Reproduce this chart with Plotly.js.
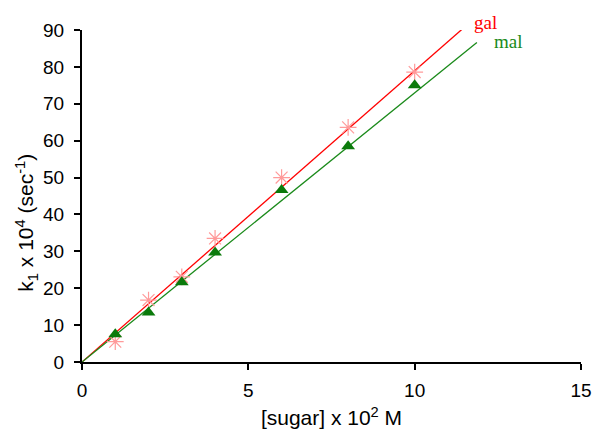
<!DOCTYPE html>
<html><head><meta charset="utf-8">
<script src="https://cdn.plot.ly/plotly-3.0.1.min.js"></script>
<style>body{margin:0;background:#fff}#c{width:593px;height:430px}</style>
</head><body><div id="c"></div>
<script>
const sugar = [1, 2, 3, 4, 6, 8, 10];
const galK = [5.5, 16.8, 23.1, 33.5, 50.0, 63.6, 78.6];
const malK = [7.5, 13.4, 21.6, 29.7, 46.6, 58.5, 75.0];
const galFitX = [0, 11.45];
const galFitY = [0, 90.4];
const malFitX = [0, 11.87];
const malFitY = [0, 86.6];
const xTicks = [0, 5, 10, 15];
const yTicks = [0, 10, 20, 30, 40, 50, 60, 70, 80, 90];

const traces = [
  {x: galFitX, y: galFitY, mode: 'lines', line: {color: '#ff0000', width: 1.3}, hoverinfo: 'skip', cliponaxis: false},
  {x: malFitX, y: malFitY, mode: 'lines', line: {color: '#1a8a1a', width: 1.3}, hoverinfo: 'skip', cliponaxis: false},
  {x: sugar, y: galK, mode: 'markers', marker: {symbol: 'asterisk-open', size: 14, color: '#ff9a9a', line: {color: '#ff9a9a', width: 1.2}}},
  {x: sugar, y: malK, mode: 'markers', marker: {symbol: 'triangle-up', size: 12, color: '#0b7a0b'}}
];

const layout = {
  width: 593, height: 430,
  margin: {l: 82, r: 12, t: 30, b: 68},
  showlegend: false,
  paper_bgcolor: '#fff', plot_bgcolor: '#fff',
  font: {family: 'Liberation Sans, Arial, sans-serif', color: '#000', size: 19},
  xaxis: {
    range: [0, 15], tickvals: xTicks, ticktext: xTicks.map(String),
    showgrid: false, zeroline: false, showline: true, linecolor: '#000', linewidth: 2,
    ticks: 'outside', ticklen: 6, tickwidth: 2, tickcolor: '#000',
    tickfont: {size: 19}, ticklabelstandoff: 4,
    title: {text: '[sugar] x 10<sup>2</sup> M', font: {size: 21}, standoff: 11}
  },
  yaxis: {
    range: [0, 90], tickvals: yTicks, ticktext: yTicks.map(String),
    showgrid: false, zeroline: false, showline: true, linecolor: '#000', linewidth: 2,
    ticks: 'outside', ticklen: 6, tickwidth: 2, tickcolor: '#000',
    tickfont: {size: 19}, ticklabelstandoff: 6
  },
  annotations: [
    {x: -0.112, y: 0.42, xref: 'paper', yref: 'paper', text: 'k<sub>1</sub> x 10<sup>4</sup> (sec<sup>-1</sup>)',
     textangle: -90, showarrow: false, xanchor: 'center', yanchor: 'middle',
     font: {family: 'Liberation Sans, Arial, sans-serif', size: 21, color: '#000'}},
    {x: 11.71, y: 92.1 / 90, xref: 'x', yref: 'paper', text: 'gal', showarrow: false, xanchor: 'left', yanchor: 'middle',
     font: {family: 'Liberation Serif, Times New Roman, serif', size: 19, color: '#ff0000'}},
    {x: 12.31, y: 86.8 / 90, xref: 'x', yref: 'paper', text: 'mal', showarrow: false, xanchor: 'left', yanchor: 'middle',
     font: {family: 'Liberation Serif, Times New Roman, serif', size: 19, color: '#1a8a1a'}}
  ]
};
Plotly.newPlot('c', traces, layout, {displayModeBar: false, staticPlot: true});
</script></body></html>
